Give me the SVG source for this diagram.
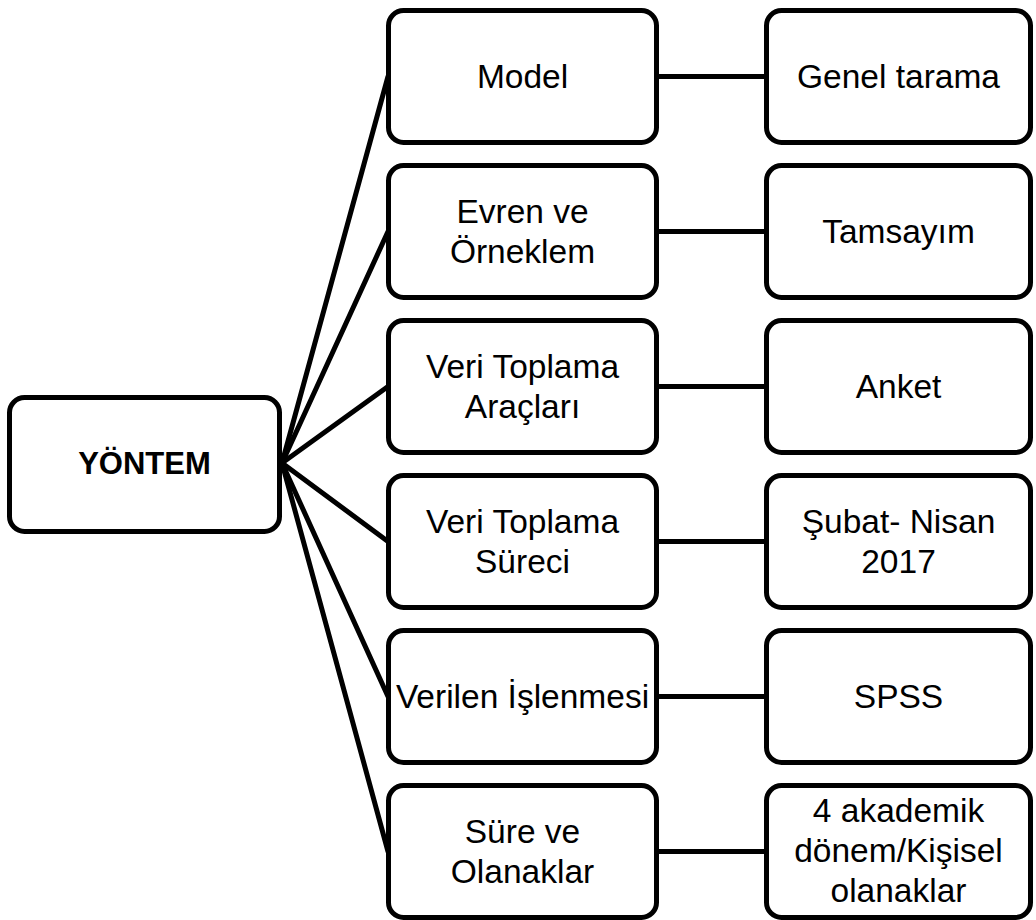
<svg xmlns="http://www.w3.org/2000/svg" width="1036" height="920" viewBox="0 0 1036 920">
<style>
.box{fill:#fff;stroke:#000;stroke-width:5}
.t{font-family:"Liberation Sans",Arial,sans-serif;font-size:33.5px;fill:#000;text-anchor:middle}
.b{font-weight:bold;font-size:31px}
.c{stroke:#000;stroke-width:5;fill:none;stroke-linecap:round}
</style>
<rect width="1036" height="920" fill="#fff"/>
<g id="connectors">
<line class="c" x1="282" y1="463" x2="388" y2="76.5"/>
<line class="c" x1="282" y1="463" x2="388" y2="231.5"/>
<line class="c" x1="282" y1="463" x2="388" y2="386.5"/>
<line class="c" x1="282" y1="463" x2="388" y2="541.5"/>
<line class="c" x1="282" y1="463" x2="388" y2="696.5"/>
<line class="c" x1="282" y1="463" x2="388" y2="851.5"/>
<line class="c" x1="657" y1="76.5" x2="766" y2="76.5"/>
<line class="c" x1="657" y1="231.5" x2="766" y2="231.5"/>
<line class="c" x1="657" y1="386.5" x2="766" y2="386.5"/>
<line class="c" x1="657" y1="541.5" x2="766" y2="541.5"/>
<line class="c" x1="657" y1="696.5" x2="766" y2="696.5"/>
<line class="c" x1="657" y1="851.5" x2="766" y2="851.5"/>
</g>
<g id="yontem"><rect class="box" x="9.5" y="397.5" width="270" height="134" rx="15"/><text class="t b" x="144.5" y="474">YÖNTEM</text></g>
<g id="model"><rect class="box" x="388.5" y="10.5" width="268" height="132" rx="15"/><text class="t" x="522.5" y="88">Model</text></g>
<g id="evren"><rect class="box" x="388.5" y="165.5" width="268" height="132" rx="15"/><text class="t" x="522.5" y="222.5">Evren ve</text><text class="t" x="522.5" y="262.5">Örneklem</text></g>
<g id="veri-araclari"><rect class="box" x="388.5" y="320.5" width="268" height="132" rx="15"/><text class="t" x="522.5" y="377.5">Veri Toplama</text><text class="t" x="522.5" y="417.5">Araçları</text></g>
<g id="veri-sureci"><rect class="box" x="388.5" y="475.5" width="268" height="132" rx="15"/><text class="t" x="522.5" y="532.5">Veri Toplama</text><text class="t" x="522.5" y="572.5">Süreci</text></g>
<g id="verilen"><rect class="box" x="388.5" y="630.5" width="268" height="132" rx="15"/><text class="t" x="522.5" y="708">Verilen İşlenmesi</text></g>
<g id="sure"><rect class="box" x="388.5" y="785.5" width="268" height="132" rx="15"/><text class="t" x="522.5" y="842.5">Süre ve</text><text class="t" x="522.5" y="882.5">Olanaklar</text></g>
<g id="genel"><rect class="box" x="766.5" y="10.5" width="264" height="132" rx="15"/><text class="t" x="898.5" y="88">Genel tarama</text></g>
<g id="tamsayim"><rect class="box" x="766.5" y="165.5" width="264" height="132" rx="15"/><text class="t" x="898.5" y="243">Tamsayım</text></g>
<g id="anket"><rect class="box" x="766.5" y="320.5" width="264" height="132" rx="15"/><text class="t" x="898.5" y="398">Anket</text></g>
<g id="subat"><rect class="box" x="766.5" y="475.5" width="264" height="132" rx="15"/><text class="t" x="898.5" y="532.5">Şubat- Nisan</text><text class="t" x="898.5" y="572.5">2017</text></g>
<g id="spss"><rect class="box" x="766.5" y="630.5" width="264" height="132" rx="15"/><text class="t" x="898.5" y="708">SPSS</text></g>
<g id="akademik"><rect class="box" x="766.5" y="785.5" width="264" height="132" rx="15"/><text class="t" x="898.5" y="822">4 akademik</text><text class="t" x="898.5" y="862">dönem/Kişisel</text><text class="t" x="898.5" y="902">olanaklar</text></g>
</svg>
